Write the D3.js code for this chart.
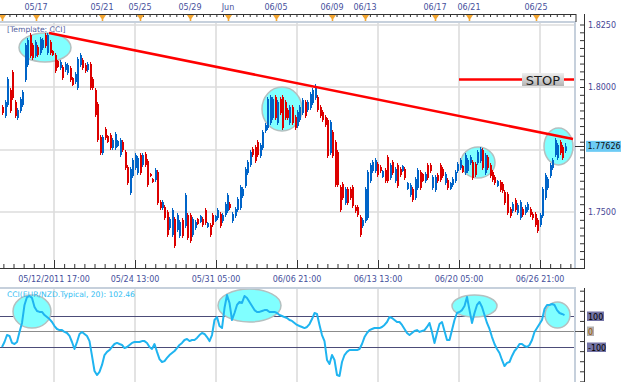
<!DOCTYPE html>
<html>
<head>
<meta charset="utf-8">
<script src="https://cdn.jsdelivr.net/npm/d3@7/dist/d3.min.js"></script>
<style>
  html, body { margin: 0; padding: 0; background: #fff; }
  svg { display: block; font-family: "DejaVu Sans", Verdana, sans-serif; }
</style>
</head>
<body>
<svg id="chart" width="625" height="382"></svg>
<script>
// EUR/NZD bars (one value per bar).
var opens = [1.7920,1.7884,1.7928,1.7988,1.8060,1.7940,1.7876,1.7904,1.7928,1.8028,
  1.8088,1.8208,1.8168,1.8124,1.8160,1.8136,1.8156,1.8208,1.8136,1.8180,
  1.8144,1.8128,1.8104,1.8076,1.8080,1.8068,1.8056,1.8076,1.8036,1.8020,
  1.7996,1.8088,1.8108,1.8088,1.8068,1.8092,1.8032,1.7988,1.7932,1.7800,
  1.7736,1.7832,1.7804,1.7808,1.7756,1.7756,1.7764,1.7728,1.7780,1.7740,
  1.7680,1.7576,1.7644,1.7676,1.7656,1.7728,1.7688,1.7732,1.7704,1.7652,
  1.7632,1.7628,1.7660,1.7540,1.7516,1.7520,1.7500,1.7436,1.7408,1.7472,
  1.7428,1.7404,1.7468,1.7444,1.7488,1.7488,1.7408,1.7436,1.7472,1.7460,
  1.7472,1.7508,1.7440,1.7448,1.7488,1.7464,1.7476,1.7492,1.7464,1.7488,
  1.7504,1.7532,1.7464,1.7484,1.7508,1.7516,1.7564,1.7604,1.7656,1.7688,
  1.7752,1.7760,1.7780,1.7724,1.7756,1.7824,1.7836,1.7856,1.7876,1.7960,
  1.7856,1.7952,1.7960,1.7940,1.7908,1.7856,1.7920,1.7880,1.7844,1.7868,
  1.7896,1.7940,1.7908,1.7916,1.7936,1.7956,1.7960,1.7920,1.7900,1.7880,
  1.7868,1.7736,1.7820,1.7780,1.7740,1.7600,1.7612,1.7536,1.7592,1.7592,
  1.7600,1.7520,1.7520,1.7480,1.7444,1.7464,1.7476,1.7624,1.7664,1.7664,
  1.7692,1.7680,1.7640,1.7668,1.7720,1.7636,1.7700,1.7624,1.7688,1.7672,
  1.7664,1.7672,1.7592,1.7568,1.7592,1.7556,1.7596,1.7660,1.7652,1.7624,
  1.7688,1.7688,1.7596,1.7588,1.7648,1.7688,1.7672,1.7616,1.7628,1.7592,
  1.7608,1.7624,1.7664,1.7676,1.7684,1.7656,1.7664,1.7696,1.7700,1.7692,
  1.7696,1.7704,1.7748,1.7656,1.7720,1.7688,1.7660,1.7640,1.7604,1.7620,
  1.7612,1.7580,1.7572,1.7512,1.7504,1.7548,1.7496,1.7476,1.7512,1.7496,
  1.7508,1.7512,1.7492,1.7492,1.7468,1.7448,1.7484,1.7556,1.7596,1.7644,
  1.7676,1.7728,1.7716,1.7780,1.7760,1.7744];
var highs = [1.7928,1.7948,1.8040,1.7996,1.8068,1.7948,1.7916,1.7960,1.7988,1.8176,
  1.8196,1.8216,1.8176,1.8188,1.8168,1.8200,1.8196,1.8216,1.8216,1.8188,
  1.8148,1.8136,1.8108,1.8108,1.8088,1.8100,1.8096,1.8084,1.8040,1.8060,
  1.8120,1.8136,1.8116,1.8096,1.8100,1.8100,1.8040,1.7996,1.7940,1.7808,
  1.7808,1.7840,1.7808,1.7816,1.7796,1.7820,1.7788,1.7796,1.7788,1.7748,
  1.7688,1.7680,1.7716,1.7736,1.7724,1.7736,1.7736,1.7740,1.7712,1.7656,
  1.7636,1.7676,1.7668,1.7548,1.7548,1.7528,1.7508,1.7480,1.7516,1.7480,
  1.7496,1.7468,1.7476,1.7576,1.7496,1.7496,1.7480,1.7468,1.7476,1.7488,
  1.7480,1.7516,1.7460,1.7456,1.7496,1.7488,1.7516,1.7500,1.7496,1.7540,
  1.7576,1.7540,1.7500,1.7520,1.7560,1.7608,1.7600,1.7680,1.7708,1.7748,
  1.7760,1.7768,1.7788,1.7776,1.7828,1.7856,1.7960,1.7968,1.7960,1.7968,
  1.7948,1.7960,1.7968,1.7948,1.7916,1.7928,1.7928,1.7888,1.7908,1.7928,
  1.7956,1.7948,1.7948,1.7980,1.7996,1.8012,1.7968,1.7928,1.7908,1.7888,
  1.7876,1.7868,1.7828,1.7788,1.7748,1.7608,1.7620,1.7600,1.7600,1.7600,
  1.7608,1.7528,1.7528,1.7488,1.7476,1.7600,1.7668,1.7696,1.7708,1.7716,
  1.7700,1.7688,1.7668,1.7676,1.7728,1.7696,1.7708,1.7680,1.7696,1.7680,
  1.7688,1.7680,1.7620,1.7616,1.7600,1.7640,1.7676,1.7668,1.7656,1.7660,
  1.7696,1.7696,1.7648,1.7648,1.7656,1.7696,1.7680,1.7660,1.7636,1.7620,
  1.7640,1.7668,1.7700,1.7716,1.7688,1.7736,1.7716,1.7728,1.7708,1.7700,
  1.7748,1.7760,1.7756,1.7736,1.7728,1.7696,1.7668,1.7648,1.7628,1.7628,
  1.7620,1.7588,1.7580,1.7520,1.7540,1.7556,1.7536,1.7548,1.7520,1.7528,
  1.7540,1.7520,1.7500,1.7500,1.7476,1.7496,1.7600,1.7656,1.7640,1.7696,
  1.7716,1.7796,1.7776,1.7788,1.7768,1.7776];
var lows = [1.7888,1.7876,1.7920,1.7896,1.7948,1.7876,1.7868,1.7896,1.7920,1.8020,
  1.8080,1.8116,1.8108,1.8116,1.8120,1.8128,1.8148,1.8156,1.8128,1.8128,
  1.8124,1.8056,1.8076,1.8068,1.8028,1.8060,1.8048,1.8020,1.8004,1.8012,
  1.7988,1.8080,1.8068,1.8056,1.8060,1.7988,1.7988,1.7880,1.7780,1.7728,
  1.7728,1.7788,1.7776,1.7748,1.7748,1.7748,1.7760,1.7720,1.7740,1.7668,
  1.7608,1.7568,1.7636,1.7668,1.7648,1.7648,1.7680,1.7680,1.7600,1.7640,
  1.7616,1.7620,1.7528,1.7508,1.7508,1.7468,1.7400,1.7428,1.7400,1.7356,
  1.7420,1.7396,1.7396,1.7436,1.7388,1.7376,1.7400,1.7428,1.7448,1.7456,
  1.7440,1.7448,1.7436,1.7400,1.7440,1.7460,1.7468,1.7436,1.7456,1.7480,
  1.7496,1.7508,1.7456,1.7476,1.7500,1.7508,1.7556,1.7596,1.7648,1.7680,
  1.7720,1.7696,1.7720,1.7716,1.7748,1.7816,1.7828,1.7848,1.7868,1.7868,
  1.7848,1.7888,1.7828,1.7868,1.7868,1.7848,1.7848,1.7828,1.7836,1.7860,
  1.7888,1.7876,1.7900,1.7908,1.7928,1.7948,1.7900,1.7876,1.7860,1.7840,
  1.7716,1.7728,1.7716,1.7600,1.7600,1.7500,1.7548,1.7528,1.7528,1.7548,
  1.7516,1.7496,1.7480,1.7400,1.7436,1.7456,1.7468,1.7616,1.7656,1.7656,
  1.7640,1.7656,1.7636,1.7616,1.7616,1.7628,1.7648,1.7616,1.7596,1.7640,
  1.7660,1.7628,1.7588,1.7560,1.7540,1.7548,1.7588,1.7588,1.7620,1.7616,
  1.7628,1.7656,1.7588,1.7580,1.7616,1.7620,1.7636,1.7608,1.7588,1.7588,
  1.7600,1.7616,1.7656,1.7668,1.7656,1.7648,1.7656,1.7688,1.7628,1.7640,
  1.7688,1.7696,1.7668,1.7648,1.7668,1.7636,1.7620,1.7608,1.7600,1.7580,
  1.7576,1.7528,1.7488,1.7476,1.7496,1.7500,1.7488,1.7468,1.7480,1.7488,
  1.7500,1.7480,1.7468,1.7440,1.7416,1.7440,1.7476,1.7548,1.7588,1.7636,
  1.7668,1.7720,1.7708,1.7728,1.7708,1.7736];
var closes = [1.7896,1.7940,1.8032,1.7904,1.7956,1.7884,1.7908,1.7952,1.7980,1.8168,
  1.8188,1.8124,1.8116,1.8180,1.8128,1.8192,1.8188,1.8164,1.8208,1.8136,
  1.8128,1.8064,1.8080,1.8100,1.8036,1.8092,1.8088,1.8028,1.8008,1.8052,
  1.8112,1.8128,1.8076,1.8064,1.8092,1.7996,1.7996,1.7888,1.7788,1.7736,
  1.7800,1.7796,1.7780,1.7756,1.7788,1.7812,1.7784,1.7788,1.7748,1.7676,
  1.7616,1.7672,1.7708,1.7728,1.7716,1.7656,1.7728,1.7688,1.7608,1.7644,
  1.7620,1.7668,1.7536,1.7516,1.7540,1.7476,1.7408,1.7472,1.7508,1.7364,
  1.7488,1.7460,1.7404,1.7568,1.7396,1.7384,1.7472,1.7460,1.7452,1.7484,
  1.7448,1.7456,1.7456,1.7408,1.7448,1.7484,1.7508,1.7444,1.7488,1.7532,
  1.7568,1.7516,1.7492,1.7512,1.7552,1.7600,1.7592,1.7672,1.7700,1.7740,
  1.7728,1.7704,1.7728,1.7768,1.7820,1.7848,1.7952,1.7960,1.7952,1.7876,
  1.7940,1.7896,1.7836,1.7876,1.7876,1.7920,1.7856,1.7836,1.7900,1.7920,
  1.7948,1.7884,1.7940,1.7972,1.7988,1.8004,1.7908,1.7884,1.7868,1.7848,
  1.7724,1.7860,1.7724,1.7608,1.7608,1.7508,1.7556,1.7592,1.7536,1.7556,
  1.7524,1.7504,1.7488,1.7408,1.7468,1.7592,1.7660,1.7688,1.7700,1.7708,
  1.7648,1.7664,1.7664,1.7624,1.7624,1.7688,1.7656,1.7672,1.7604,1.7648,
  1.7684,1.7636,1.7616,1.7608,1.7548,1.7632,1.7668,1.7596,1.7624,1.7652,
  1.7636,1.7664,1.7640,1.7640,1.7624,1.7628,1.7644,1.7652,1.7596,1.7616,
  1.7632,1.7660,1.7692,1.7708,1.7660,1.7728,1.7708,1.7720,1.7636,1.7648,
  1.7740,1.7752,1.7676,1.7728,1.7676,1.7644,1.7628,1.7616,1.7624,1.7588,
  1.7584,1.7536,1.7496,1.7484,1.7532,1.7508,1.7528,1.7540,1.7488,1.7520,
  1.7532,1.7488,1.7476,1.7448,1.7424,1.7488,1.7592,1.7648,1.7632,1.7688,
  1.7708,1.7788,1.7768,1.7736,1.7716,1.77626];

// CCI(20) on the typical price, one value per bar.
var cciValues = [-103,-71,-26,-32,-77,-84,-71,-6,52,168,
  219,226,213,155,129,123,123,103,90,77,
  58,32,13,6,6,-6,-13,-32,-71,-116,
  -71,-19,-6,-19,-32,-65,-161,-258,-284,-264,
  -219,-155,-135,-123,-103,-84,-77,-84,-90,-110,
  -103,-90,-77,-71,-71,-71,-65,-65,-77,-103,
  -116,-84,-135,-181,-200,-194,-174,-155,-142,-129,
  -110,-90,-77,-58,-52,-65,-58,-58,-45,-26,
  -13,-19,-39,-65,-26,71,90,32,19,148,
  232,181,71,116,168,187,181,226,213,187,
  161,135,123,123,129,135,135,123,123,123,
  116,103,97,90,84,71,65,52,39,32,
  26,19,26,45,77,116,110,39,-26,-65,
  -187,-213,-155,-187,-284,-290,-200,-155,-135,-123,
  -123,-123,-123,-116,-84,-39,-13,6,13,19,
  19,19,26,39,58,90,84,71,58,58,
  39,13,-13,-26,-13,0,6,-6,0,6,
  26,52,-6,-77,-13,45,58,0,-58,-58,
  6,71,116,123,135,161,219,135,52,116,
  168,187,155,103,52,13,-39,-84,-116,-142,
  -187,-226,-206,-200,-161,-129,-110,-84,-84,-97,
  -103,-90,-58,-6,19,45,71,142,168,168,
  174,168,135,116,110,102.46];

// Bottom time axis labels and their bar positions.
var timeLabels = ["05/12/2011 17:00", "05/24 13:00", "05/31 05:00", "06/06 21:00",
  "06/13 13:00", "06/20 05:00", "06/26 21:00"];
var timeLabelPos = [20.8, 53.2, 85.6, 118.0, 150.4, 182.8, 215.2];

// Top date ruler.
var rulerLabels = ["", "05/17", "05/21", "05/25", "05/29", "Jun", "06/05",
  "06/09", "06/13", "06/17", "06/21", "06/25"];
var rulerPos = [0, 13.6, 40, 55.2, 75.2, 90.4, 109.6, 132, 145.2, 173.2, 186.8, 213.6];

var priceLabels = [1.8250, 1.8000, 1.7750, 1.7500];
var cciLevels = [100, 0, -100];

// Drawn annotations: trend line, stop level, highlighted zones.
var trendLine = [[18.8, 1.8216], [228.4, 1.7792]];
var stopLevel = 1.8030;
var stopRange = [182.8, 229.2];
var stopBox = [208, 224.8];
var priceZones = [[6.8, 27.6, 1.8216, 1.8100], [104, 120, 1.8000, 1.7824],
  [183.6, 197.2, 1.7760, 1.7636], [216.8, 228.4, 1.7836, 1.7688]];
var cciZones = [[4.4, 19.6, 232, 19], [86.4, 111.6, 271, 58],
  [180, 198, 232, 90], [217.2, 227.2, 187, 19]];

(function () {
  var svg = d3.select("#chart");
  var N = closes.length;

  var plotRight = 575, axisX = 584;
  var mainTop = 22, mainBottom = 260, axisY = 268;
  var cciTop = 288, cciBottom = 382;

  var x = d3.scaleLinear().domain([0, N - 1]).range([2, 564.5]);
  var yPrice = d3.scaleLinear().domain([1.7308, 1.826]).range([mainBottom, mainTop]);
  var yCci = d3.scaleLinear().domain([-100, 100]).range([346.5, 315.5]);

  var upColor = "#0064c8", downColor = "#dc0000";
  var gridColor = "#dcdcdc", axisColor = "#333";
  var labelColor = "#454f9c";

  var defs = svg.append("defs");
  defs.append("clipPath").attr("id", "clipMain").append("rect")
    .attr("x", 0).attr("y", mainTop).attr("width", plotRight).attr("height", mainBottom - mainTop);
  defs.append("clipPath").attr("id", "clipCci").append("rect")
    .attr("x", 0).attr("y", cciTop).attr("width", plotRight).attr("height", cciBottom - cciTop);
  var grad = defs.append("linearGradient").attr("id", "stopGrad")
    .attr("x1", 0).attr("y1", 0).attr("x2", 0).attr("y2", 1);
  grad.append("stop").attr("offset", "0%").attr("stop-color", "#efefef");
  grad.append("stop").attr("offset", "100%").attr("stop-color", "#b2b2b2");

  // ---- main price panel ----
  var main = svg.append("g").attr("clip-path", "url(#clipMain)");

  main.selectAll(".vgrid").data(timeLabelPos).enter().append("line")
    .attr("x1", d => Math.round(x(d))).attr("x2", d => Math.round(x(d)))
    .attr("y1", mainTop).attr("y2", mainBottom)
    .attr("stroke", gridColor).attr("stroke-width", 1.6);
  main.selectAll(".hgrid").data(priceLabels).enter().append("line")
    .attr("x1", 0).attr("x2", plotRight)
    .attr("y1", d => Math.round(yPrice(d))).attr("y2", d => Math.round(yPrice(d)))
    .attr("stroke", gridColor).attr("stroke-width", 1.6);

  main.selectAll(".zone").data(priceZones).enter().append("ellipse")
    .attr("cx", d => (x(d[0]) + x(d[1])) / 2)
    .attr("cy", d => (yPrice(d[2]) + yPrice(d[3])) / 2)
    .attr("rx", d => (x(d[1]) - x(d[0])) / 2)
    .attr("ry", d => (yPrice(d[3]) - yPrice(d[2])) / 2)
    .attr("fill", "#80ffff").attr("stroke", "#b4c0c0").attr("stroke-width", 1.5);

  var idx = d3.range(N);
  var barColor = i => closes[i] >= opens[i] ? upColor : downColor;
  main.selectAll(".wick").data(idx).enter().append("rect")
    .attr("x", i => Math.round(x(i)))
    .attr("width", 1)
    .attr("y", i => yPrice(highs[i]))
    .attr("height", i => yPrice(lows[i]) - yPrice(highs[i]))
    .attr("fill", barColor);
  main.selectAll(".body").data(idx).enter().append("rect")
    .attr("x", i => Math.round(x(i)))
    .attr("width", 2)
    .attr("y", i => yPrice(Math.max(opens[i], closes[i])))
    .attr("height", i => Math.max(1, Math.abs(yPrice(opens[i]) - yPrice(closes[i]))))
    .attr("fill", barColor);

  main.append("line")
    .attr("x1", x(trendLine[0][0])).attr("y1", yPrice(trendLine[0][1]))
    .attr("x2", x(trendLine[1][0])).attr("y2", yPrice(trendLine[1][1]))
    .attr("stroke", "#ff0000").attr("stroke-width", 2.5);

  main.append("line")
    .attr("x1", x(stopRange[0])).attr("x2", x(stopRange[1]))
    .attr("y1", yPrice(stopLevel)).attr("y2", yPrice(stopLevel))
    .attr("stroke", "#ff0000").attr("stroke-width", 2.5);
  var sy = yPrice(stopLevel);
  main.append("rect")
    .attr("x", x(stopBox[0])).attr("y", sy - 6.5)
    .attr("width", x(stopBox[1]) - x(stopBox[0])).attr("height", 13)
    .attr("fill", "url(#stopGrad)");
  main.append("text")
    .attr("x", (x(stopBox[0]) + x(stopBox[1])) / 2).attr("y", sy + 5)
    .attr("text-anchor", "middle").attr("font-size", 13).attr("fill", "#1a1a1a")
    .text("STOP");

  svg.append("text").attr("x", 7).attr("y", 32)
    .attr("font-size", 7.6).attr("fill", "#53619e")
    .text("[Template: CCI]");

  // panel frame
  svg.append("path").attr("d", "M0," + mainTop + "H" + plotRight + "V" + axisY)
    .attr("fill", "none").attr("stroke", "#c6d0dc").attr("stroke-width", 2);

  // ---- top date ruler ----
  var ruler = svg.append("g").attr("transform", "translate(0,14)");
  ruler.call(d3.axisBottom(x).tickValues(d3.range(0.3, 229.6, 2.67))
    .tickSize(3).tickSizeOuter(0).tickFormat(""));
  ruler.select(".domain").remove();
  ruler.selectAll("line").attr("stroke", axisColor);
  ruler.append("line").attr("x1", 0).attr("x2", plotRight + 1).attr("y1", 0.5).attr("y2", 0.5)
    .attr("stroke", axisColor);
  ruler.append("line").attr("x1", plotRight + 1).attr("x2", plotRight + 1).attr("y1", 0).attr("y2", 8)
    .attr("stroke", axisColor);
  ruler.selectAll(".marker").data(rulerPos).enter().append("path")
    .attr("d", d => {
      var cx = Math.round(x(d)) + 0.5;
      return "M" + (cx - 3.5) + ",1L" + (cx + 3.5) + ",1L" + (cx + 0.8) + ",5L" + (cx + 0.8) + ",7L" +
        (cx - 0.8) + ",7L" + (cx - 0.8) + ",5Z";
    })
    .attr("fill", "#f2a531");
  svg.selectAll(".rlabel").data(rulerPos).enter().append("text")
    .attr("x", d => x(d)).attr("y", 10)
    .attr("text-anchor", "middle").attr("font-size", 8).attr("fill", labelColor)
    .text((d, i) => rulerLabels[i]);

  // ---- bottom time axis ----
  var bottom = svg.append("g").attr("transform", "translate(0," + axisY + ")");
  bottom.call(d3.axisTop(x).tickValues(d3.range(0.55, 229.6, 4.05))
    .tickSize(4).tickSizeOuter(0).tickFormat(""));
  bottom.call(g => g.select(".domain").remove());
  var bottomMajor = svg.append("g").attr("transform", "translate(0," + axisY + ")");
  bottomMajor.call(d3.axisTop(x).tickValues(timeLabelPos).tickSize(8).tickSizeOuter(0).tickFormat(""));
  bottomMajor.select(".domain").remove();
  svg.selectAll(".tick line").attr("stroke", axisColor);
  svg.append("line").attr("x1", 0).attr("x2", axisX).attr("y1", axisY + 0.5).attr("y2", axisY + 0.5)
    .attr("stroke", axisColor);
  svg.selectAll(".tlabel").data(timeLabelPos).enter().append("text")
    .attr("y", 282).attr("font-size", 8).attr("fill", labelColor)
    .text((d, i) => timeLabels[i])
    .each(function (d) {
      var w = this.getComputedTextLength();
      var cx = x(d);
      if (cx - w / 2 < 1) d3.select(this).attr("x", 1).attr("text-anchor", "start");
      else d3.select(this).attr("x", cx).attr("text-anchor", "middle");
    });

  // ---- price axis ----
  var pAxis = svg.append("g").attr("transform", "translate(" + axisX + ",0)");
  pAxis.call(d3.axisLeft(yPrice).tickValues(d3.range(0, 31).map(k => 1.825 - k * 0.003125))
    .tickSize(4).tickSizeOuter(0).tickFormat(""));
  pAxis.select(".domain").remove();
  pAxis.selectAll("line").attr("stroke", axisColor);
  svg.append("line").attr("x1", axisX + 0.5).attr("x2", axisX + 0.5).attr("y1", 14).attr("y2", axisY + 1)
    .attr("stroke", axisColor);
  svg.selectAll(".plabel").data(priceLabels.filter(d => d !== 1.775)).enter().append("text")
    .attr("x", axisX + 4).attr("y", d => yPrice(d) + 3)
    .attr("font-size", 8).attr("fill", "#474796")
    .text(d => d3.format(".4f")(d));

  var last = closes[N - 1];
  svg.append("line").attr("x1", plotRight).attr("x2", axisX)
    .attr("y1", Math.round(yPrice(last)) + 0.5).attr("y2", Math.round(yPrice(last)) + 0.5)
    .attr("stroke", axisColor);
  svg.append("rect").attr("x", axisX + 2).attr("y", yPrice(last) - 5.5)
    .attr("width", 35).attr("height", 11).attr("fill", "#6ccbf5");
  svg.append("text").attr("x", axisX + 3.5).attr("y", yPrice(last) + 3)
    .attr("font-size", 8).attr("fill", "#111").text(d3.format(".5f")(last));

  // ---- CCI panel ----
  var cci = svg.append("g").attr("clip-path", "url(#clipCci)");
  cci.selectAll(".vgrid").data(timeLabelPos).enter().append("line")
    .attr("x1", d => Math.round(x(d))).attr("x2", d => Math.round(x(d)))
    .attr("y1", cciTop).attr("y2", cciBottom)
    .attr("stroke", gridColor).attr("stroke-width", 1.6);
  cci.selectAll(".level").data(cciLevels).enter().append("line")
    .attr("x1", 0).attr("x2", plotRight)
    .attr("y1", d => Math.round(yCci(d)) + 0.5).attr("y2", d => Math.round(yCci(d)) + 0.5)
    .attr("stroke", d => d === 0 ? "#8c8c8c" : "#4c4c78").attr("stroke-width", 1.2);
  cci.selectAll(".zone").data(cciZones).enter().append("ellipse")
    .attr("cx", d => (x(d[0]) + x(d[1])) / 2)
    .attr("cy", d => (yCci(d[2]) + yCci(d[3])) / 2)
    .attr("rx", d => (x(d[1]) - x(d[0])) / 2)
    .attr("ry", d => (yCci(d[3]) - yCci(d[2])) / 2)
    .attr("fill", "#80ffff").attr("stroke", "#b4c0c0").attr("stroke-width", 1.5);
  cci.append("path")
    .datum(cciValues)
    .attr("fill", "none").attr("stroke", "#1fb4f0").attr("stroke-width", 2)
    .attr("stroke-linejoin", "round")
    .attr("d", d3.line().x((d, i) => x(i)).y(d => yCci(d)));

  svg.append("text").attr("x", 7).attr("y", 297)
    .attr("font-size", 7.6).attr("fill", "#33bdf2")
    .text("CCI(EUR/NZD.Typical, 20): " + d3.format(".2f")(cciValues[cciValues.length - 1]));

  svg.append("path").attr("d", "M0," + cciTop + "H" + plotRight + "V" + cciBottom)
    .attr("fill", "none").attr("stroke", "#c6d0dc").attr("stroke-width", 2);
  svg.append("line").attr("x1", plotRight).attr("x2", axisX)
    .attr("y1", Math.round(yCci(0)) + 0.5).attr("y2", Math.round(yCci(0)) + 0.5)
    .attr("stroke", "#555");

  var cAxis = svg.append("g").attr("transform", "translate(" + axisX + ",0)");
  cAxis.call(d3.axisLeft(yCci).tickValues(d3.range(-325, 261, 65))
    .tickSize(4).tickSizeOuter(0).tickFormat(""));
  cAxis.select(".domain").remove();
  cAxis.selectAll("line").attr("stroke", axisColor);
  svg.append("line").attr("x1", axisX + 0.5).attr("x2", axisX + 0.5).attr("y1", cciTop).attr("y2", cciBottom)
    .attr("stroke", axisColor);

  var cLab = svg.selectAll(".clabel").data(cciLevels).enter().append("g")
    .attr("transform", d => "translate(" + (axisX + 3) + "," + Math.round(yCci(d)) + ")");
  cLab.append("rect")
    .attr("x", 0).attr("y", -4.5).attr("height", 9.5)
    .attr("width", d => d === 0 ? 7 : (d < 0 ? 19 : 17))
    .attr("fill", d => d === 0 ? "#b0b0b0" : "#7474a6");
  cLab.append("text")
    .attr("x", 1).attr("y", 3.5).attr("font-size", 8)
    .attr("fill", d => d === 0 ? "#a05400" : "#000")
    .text(d => d);
})();
</script>
</body>
</html>
